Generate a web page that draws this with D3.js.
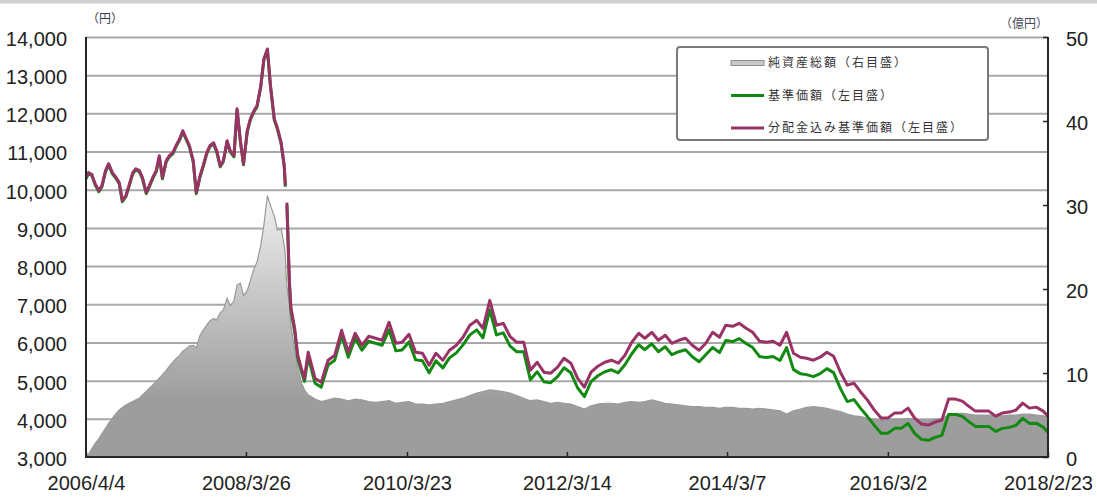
<!DOCTYPE html>
<html><head><meta charset="utf-8">
<script src="https://cdn.jsdelivr.net/npm/d3@7"></script>
<style>
body{margin:0;background:#fff}
svg{display:block}
</style>
</head><body>
<svg id="chart" width="1097" height="497"></svg>
<script>
// ---------------- data ----------------
const dates = [
"2006-04-04","2006-04-15","2006-05-01","2006-05-15","2006-06-01","2006-06-15","2006-07-01","2006-07-15","2006-08-01","2006-08-15","2006-09-01","2006-09-15","2006-10-01","2006-10-15","2006-11-01","2006-11-15","2006-12-01","2006-12-15",
"2007-01-01","2007-01-15","2007-02-01","2007-02-15","2007-03-01","2007-03-15","2007-04-01","2007-04-15","2007-05-01","2007-05-15","2007-06-01","2007-06-15","2007-07-01","2007-07-15","2007-08-01","2007-08-15","2007-09-01","2007-09-15","2007-10-01","2007-10-15","2007-11-01","2007-11-15","2007-12-01","2007-12-15",
"2008-01-01","2008-01-15","2008-02-01","2008-02-15","2008-03-01","2008-03-15","2008-04-01","2008-04-15","2008-05-01","2008-05-15","2008-06-01","2008-06-15","2008-07-01","2008-07-15","2008-08-01","2008-08-15","2008-09-01","2008-09-15","2008-09-20","2008-09-23","2008-09-27","2008-10-08","2008-10-15","2008-11-01","2008-11-15","2008-12-01","2008-12-15",
"2009-01-01","2009-02-01","2009-03-01","2009-04-01","2009-05-01","2009-06-01","2009-07-01","2009-08-01","2009-09-01","2009-10-01","2009-11-01","2009-12-01",
"2010-01-01","2010-02-01","2010-03-01","2010-04-01","2010-05-01","2010-06-01","2010-07-01","2010-08-01","2010-09-01","2010-10-01","2010-11-01","2010-12-01",
"2011-01-01","2011-02-01","2011-03-01","2011-04-01","2011-05-01","2011-06-01","2011-07-01","2011-08-01","2011-09-01","2011-10-01","2011-11-01","2011-12-01",
"2012-01-01","2012-02-01","2012-03-01","2012-04-01","2012-05-01","2012-06-01","2012-07-01","2012-08-01","2012-09-01","2012-10-01","2012-11-01","2012-12-01",
"2013-01-01","2013-02-01","2013-03-01","2013-04-01","2013-05-01","2013-06-01","2013-07-01","2013-08-01","2013-09-01","2013-10-01","2013-11-01","2013-12-01",
"2014-01-01","2014-02-01","2014-03-01","2014-04-01","2014-05-01","2014-06-01","2014-07-01","2014-08-01","2014-09-01","2014-10-01","2014-11-01","2014-12-01",
"2015-01-01","2015-02-01","2015-03-01","2015-04-01","2015-05-01","2015-06-01","2015-07-01","2015-08-01","2015-09-01","2015-10-01","2015-11-01","2015-12-01",
"2016-01-01","2016-02-01","2016-03-01","2016-04-01","2016-05-01","2016-06-01","2016-07-01","2016-08-01","2016-09-01","2016-10-01","2016-11-01","2016-12-01",
"2017-01-01","2017-02-01","2017-03-01","2017-04-01","2017-05-01","2017-06-01","2017-07-01","2017-08-01","2017-09-01","2017-10-01","2017-11-01","2017-12-01",
"2018-01-01","2018-02-01","2018-02-23"
];

// 分配金込み基準価額（左目盛）, yen
const navWithDist = [
10316,10450,10395,10160,9977,10107,10499,10682,10447,10343,10186,9715,9846,10107,10447,10551,10499,10316,
9925,10107,10343,10499,10891,10316,10761,10891,10969,11152,11335,11545,11335,11152,10761,9925,10369,10630,10969,11152,11231,11022,10630,10761,
11283,11022,10891,12119,11283,10682,11545,11858,12067,12198,12720,13426,13687,12720,11858,11623,11231,10630,10107,null,9663,7625,6920,6371,5665,5326,5064,
5744,5064,4960,5535,5665,6318,5744,6240,5927,6162,6110,6057,
6528,5979,6005,6214,5744,5718,5404,5718,5535,5796,5927,6136,
6449,6580,6371,7102,6449,6501,6162,6005,6005,5273,5482,5221,
5195,5352,5587,5456,5064,4829,5221,5378,5482,5535,5456,5665,
6005,6240,6110,6266,6057,6188,5979,6057,6110,5927,5796,5979,
6266,6136,6449,6423,6501,6371,6266,6031,6005,6031,5927,6266,
5718,5613,5587,5535,5613,5744,5639,5221,4881,4933,4698,4489,
4228,4019,4019,4150,4150,4280,4019,3862,3836,3915,3967,4516,
4516,4463,4333,4202,4202,4202,4071,4150,4176,4228,4411,4280,
4306,4202,4071
];

// 基準価額（左目盛）, yen
const nav = [
10286,10420,10365,10130,9947,10077,10469,10652,10417,10313,10156,9685,9816,10077,10417,10521,10469,10286,
9895,10077,10313,10469,10861,10286,10731,10861,10939,11122,11305,11515,11305,11122,10731,9895,10339,10600,10939,11122,11201,10992,10600,10731,
11253,10992,10861,12089,11253,10652,11515,11828,12037,12168,12690,13396,13657,12690,11828,11593,11201,10600,10077,null,9600,7560,6850,6290,5580,5240,4980,
5614,4934,4830,5405,5535,6188,5614,6110,5797,6032,5980,5927,
6328,5779,5805,6014,5544,5518,5204,5518,5335,5596,5727,5936,
6199,6330,6121,6852,6199,6251,5912,5755,5755,5023,5232,4971,
4945,5102,5337,5206,4814,4579,4971,5128,5232,5285,5206,5415,
5705,5940,5810,5966,5757,5888,5679,5757,5810,5627,5496,5679,
5866,5736,6049,6023,6101,5971,5866,5631,5605,5631,5527,5866,
5288,5183,5157,5105,5183,5314,5209,4791,4451,4503,4268,4059,
3828,3619,3619,3750,3750,3880,3619,3462,3436,3515,3567,4116,
4116,4063,3933,3802,3802,3802,3671,3750,3776,3828,4011,3880,
3886,3782,3651
];

// 純資産総額（右目盛）, 億円
const netAssets = [
0,0.3,1.0,1.6,2.2,2.8,3.4,4.0,4.6,5.1,5.6,5.9,6.2,6.4,6.6,6.8,7.0,7.4,
7.8,8.2,8.6,9.0,9.4,9.8,10.3,10.8,11.3,11.7,12.1,12.6,12.9,13.2,13.3,13.0,14.5,15.1,15.7,16.2,16.5,16.3,17.2,17.5,
18.9,18.0,18.6,20.5,20.7,19.2,19.8,21.0,22.4,23.2,25.2,27.6,31.1,29.9,28.7,27.0,27.2,25.2,24.0,22.0,20.4,18.1,15.7,12.7,10.6,8.9,8.0,
7.4,6.9,6.6,6.8,7.0,6.9,6.7,6.9,6.8,6.6,6.5,6.6,
6.7,6.4,6.5,6.6,6.3,6.3,6.2,6.3,6.4,6.6,6.8,7.0,
7.3,7.6,7.8,8.0,7.9,7.8,7.6,7.3,7.0,6.7,6.8,6.6,
6.4,6.5,6.4,6.3,6.0,5.7,6.1,6.3,6.4,6.4,6.3,6.5,
6.6,6.5,6.6,6.8,6.6,6.4,6.3,6.2,6.1,6.0,6.0,5.9,
5.9,5.8,5.9,5.9,5.8,5.8,5.7,5.8,5.7,5.6,5.5,5.1,
5.5,5.7,5.9,6.0,5.9,5.8,5.6,5.4,5.1,4.9,4.8,4.6,
4.5,4.4,4.5,4.5,4.5,4.6,4.5,4.4,4.4,4.5,4.6,5.0,
5.2,5.2,5.1,5.0,5.0,5.0,4.9,4.9,5.0,5.0,5.1,5.1,
5.0,4.9,4.8
];

const leftTicks = [3000,4000,5000,6000,7000,8000,9000,10000,11000,12000,13000,14000];
const rightTicks = [0,10,20,30,40,50];
const xTickDates = ["2006-04-04","2008-03-26","2010-03-23","2012-03-14","2014-03-07","2016-03-02","2018-02-23"];
const xTickLabels = ["2006/4/4","2008/3/26","2010/3/23","2012/3/14","2014/3/7","2016/3/2","2018/2/23"];
const leftUnit = "（円）";
const rightUnit = "（億円）";
const legendLabels = ["純資産総額（右目盛）","基準価額（左目盛）","分配金込み基準価額（左目盛）"];

// ---------------- drawing ----------------
const W = 1097, H = 497;
const M = {left: 86, right: 1048, top: 37, bottom: 457};
const parse = d3.timeParse("%Y-%m-%d");
const rows = dates.map((d, i) => ({date: parse(d), p: navWithDist[i], g: nav[i], a: netAssets[i]}));

const x = d3.scaleTime().domain([parse("2006-04-04"), parse("2018-02-23")]).range([M.left, M.right]);
const yL = d3.scaleLinear().domain([3000, 14000]).range([M.bottom, M.top]);
const yR = d3.scaleLinear().domain([0, 50]).range([M.bottom, M.top]);

const svg = d3.select("#chart");
const FONT = "'Liberation Sans', Arial, sans-serif";
const JFONT = "'Noto Sans CJK JP', 'Noto Sans', sans-serif";

// top grey band
svg.append("rect").attr("x", 0).attr("y", 0).attr("width", W).attr("height", 3.5).attr("fill", "#cfcfcf");

const defs = svg.append("defs");
const grad = defs.append("linearGradient").attr("id", "areaGrad")
  .attr("gradientUnits", "userSpaceOnUse").attr("x1", 0).attr("y1", 190).attr("x2", 0).attr("y2", 400);
grad.append("stop").attr("offset", 0).attr("stop-color", "#f2f2f2");
grad.append("stop").attr("offset", 1).attr("stop-color", "#9d9d9d");

// gridlines
const grid = svg.append("g").attr("transform", `translate(${M.left},0)`)
  .call(d3.axisLeft(yL).tickValues(leftTicks.filter(v => v > 3000)).tickSize(-(M.right - M.left)).tickFormat(""));
grid.select(".domain").remove();
grid.selectAll("line").attr("stroke", "#a8a8a8").attr("stroke-width", 2);

// area
const area = d3.area().x(d => x(d.date)).y0(yR(0)).y1(d => yR(d.a));
svg.append("path").datum(rows).attr("d", area).attr("fill", "url(#areaGrad)");
svg.append("path").datum(rows).attr("d", d3.line().x(d => x(d.date)).y(d => yR(d.a)))
  .attr("fill", "none").attr("stroke", "#9a9a9a").attr("stroke-width", 1.2);

// lines
const lineG = d3.line().defined(d => d.g != null).x(d => x(d.date)).y(d => yL(d.g));
const lineP = d3.line().defined(d => d.p != null).x(d => x(d.date)).y(d => yL(d.p));
svg.append("path").datum(rows).attr("d", lineG).attr("fill", "none")
  .attr("stroke", "#128a12").attr("stroke-width", 3).attr("stroke-linejoin", "round");
svg.append("path").datum(rows).attr("d", lineP).attr("fill", "none")
  .attr("stroke", "#993366").attr("stroke-width", 3).attr("stroke-linejoin", "round");

// axis frame lines
const frame = svg.append("g").attr("stroke", "#262626").attr("stroke-width", 2);
frame.append("line").attr("x1", M.left).attr("x2", M.left).attr("y1", M.top).attr("y2", M.bottom + 1);
frame.append("line").attr("x1", M.right).attr("x2", M.right).attr("y1", M.top).attr("y2", M.bottom + 1);
frame.append("line").attr("x1", M.left - 1).attr("x2", M.right + 1).attr("y1", M.bottom).attr("y2", M.bottom);

// left axis labels
const gl = svg.append("g").attr("transform", `translate(${M.left},0)`)
  .call(d3.axisLeft(yL).tickValues(leftTicks).tickSize(0).tickPadding(19).tickFormat(d3.format(",")));
gl.select(".domain").remove();
gl.selectAll("text").attr("font-family", FONT).attr("font-size", 20).attr("fill", "#222").attr("dy", "0.42em");

// right axis labels + inward ticks
const gr = svg.append("g").attr("transform", `translate(${M.right},0)`)
  .call(d3.axisRight(yR).tickValues(rightTicks).tickSize(0).tickPadding(18));
gr.select(".domain").remove();
gr.selectAll("text").attr("font-family", FONT).attr("font-size", 20).attr("fill", "#222").attr("dy", "0.42em");
const grt = svg.append("g").attr("transform", `translate(${M.right},0)`)
  .call(d3.axisLeft(yR).tickValues(rightTicks).tickSize(5).tickFormat(""));
grt.select(".domain").remove();
grt.selectAll("line").attr("stroke", "#262626").attr("stroke-width", 1.5);

// bottom axis labels + inward ticks
const xt = xTickDates.map(parse);
const gb = svg.append("g").attr("transform", `translate(0,${M.bottom})`)
  .call(d3.axisBottom(x).tickValues(xt).tickSize(0).tickPadding(19).tickFormat((d, i) => xTickLabels[i]));
gb.select(".domain").remove();
gb.selectAll("text").attr("font-family", FONT).attr("font-size", 20).attr("fill", "#222");
const gbt = svg.append("g").attr("transform", `translate(0,${M.bottom})`)
  .call(d3.axisTop(x).tickValues(xt).tickSize(5).tickFormat(""));
gbt.select(".domain").remove();
gbt.selectAll("line").attr("stroke", "#262626").attr("stroke-width", 1.5);

// unit labels
svg.append("text").attr("x", 87).attr("y", 23).text(leftUnit)
  .attr("font-family", JFONT).attr("font-size", 12).attr("fill", "#3a3a4a");
svg.append("text").attr("x", M.right).attr("y", 28).attr("text-anchor", "end").text(rightUnit)
  .attr("font-family", JFONT).attr("font-size", 12).attr("fill", "#4a4a5a");

// legend
const lg = svg.append("g");
lg.append("rect").attr("x", 677).attr("y", 47).attr("width", 311).attr("height", 93).attr("rx", 3)
  .attr("fill", "#fff").attr("stroke", "#7a7a7a").attr("stroke-width", 2);
const rowY = [63, 95.5, 128];
lg.append("rect").attr("x", 731).attr("y", rowY[0] - 2.5).attr("width", 33).attr("height", 5)
  .attr("fill", "#c8c8c8").attr("stroke", "#8e8e8e").attr("stroke-width", 1);
lg.append("line").attr("x1", 731).attr("x2", 764).attr("y1", rowY[1]).attr("y2", rowY[1])
  .attr("stroke", "#128a12").attr("stroke-width", 3);
lg.append("line").attr("x1", 731).attr("x2", 764).attr("y1", rowY[2]).attr("y2", rowY[2])
  .attr("stroke", "#993366").attr("stroke-width", 3);
legendLabels.forEach((t, i) => {
  lg.append("text").attr("x", 768).attr("y", rowY[i]).attr("dy", "0.36em").text(t)
    .attr("font-family", JFONT).attr("font-size", 12).attr("letter-spacing", 2).attr("fill", "#333");
});
</script>
</body></html>
